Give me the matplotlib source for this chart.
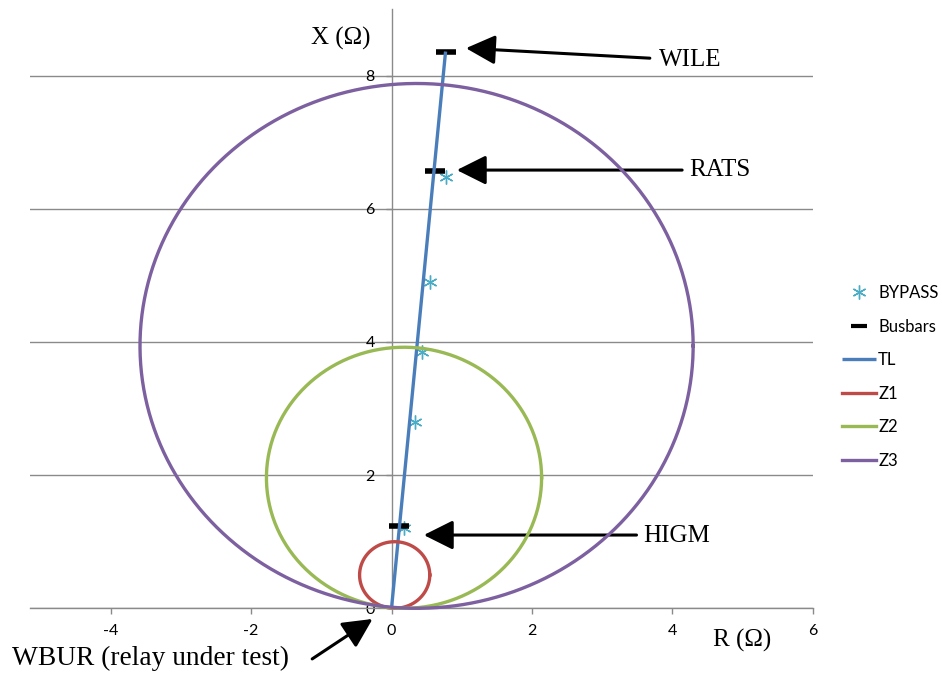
import numpy as np
import matplotlib
matplotlib.use("Agg")
import matplotlib.pyplot as plt

# ---------------- data ----------------
bypass_r = [0.175, 0.33, 0.43, 0.545, 0.77]
bypass_x = [1.21, 2.80, 3.85, 4.90, 6.48]

busbar_r = [0.11, 0.62, 0.77]
busbar_x = [1.24, 6.56, 8.36]

tl_r = [0.0, 0.77]
tl_x = [0.0, 8.36]

# mho circles: centre (R, X) and radius
zone_names = ["Z1", "Z2", "Z3"]
zone_center_r = [0.045, 0.178, 0.357]
zone_center_x = [0.50, 1.96, 3.94]
zone_radius = [0.50, 1.96, 3.94]

xticks = [-4, -2, 0, 2, 4, 6]
yticks = [0, 2, 4, 6, 8]

# annotations: (label, text position, arrow tail, arrow tip) in data units
ann_labels = ["WILE", "RATS", "HIGM", "WBUR (relay under test)"]
ann_text = [(4.25, 8.23), (4.68, 6.58), (4.06, 1.09), (-3.43, -0.75)]
ann_tail = [(3.68, 8.26), (4.14, 6.58), (3.49, 1.10), (-1.13, -0.76)]
ann_tip = [(1.06, 8.41), (0.93, 6.58), (0.46, 1.10), (-0.27, -0.16)]
ann_size = [18, 18, 18, 19.7]

# ---------------- style ----------------
c_tl = "#4A7EBB"
c_zone = ["#BE4B48", "#98B954", "#7D60A0"]
c_bypass = "#4BACC6"
grid_c = "#8a8a8a"
sans = ["Lato", "DejaVu Sans"]
serif = ["Liberation Serif", "DejaVu Serif"]

fig = plt.figure(figsize=(9.42, 6.73), dpi=100)
ax = fig.add_axes([30 / 942, (673 - 608.3) / 673, 782.7 / 942, 599.4 / 673])
ax.set_xlim(-5.15, 6)
ax.set_ylim(0, 9)

for s in ["top", "right"]:
    ax.spines[s].set_visible(False)
ax.spines["left"].set_position(("data", 0))
ax.spines["left"].set_color(grid_c)
ax.spines["bottom"].set_color(grid_c)
ax.spines["left"].set_linewidth(1.0)
ax.spines["bottom"].set_linewidth(1.0)

ax.set_xticks(xticks)
ax.set_yticks(yticks)
ax.set_xticklabels([str(t) for t in xticks], fontfamily=sans, fontsize=11.5)
ax.set_yticklabels([str(t) for t in yticks], fontfamily=sans, fontsize=11.5)
ax.tick_params(axis="x", direction="out", length=4, width=1, color=grid_c, pad=7)
ax.tick_params(axis="y", direction="out", length=4, width=1, color=grid_c, pad=8)
ax.yaxis.grid(True, color=grid_c, linewidth=1.0)
ax.set_axisbelow(True)

# series
ax.plot(bypass_r, bypass_x, linestyle="none", marker=(6, 2, 0), markersize=10,
        markeredgewidth=1.0, color=c_bypass, label="BYPASS", zorder=3, clip_on=False)
ax.plot(busbar_r, busbar_x, linestyle="none", marker="_", markersize=15,
        markeredgewidth=4, color="black", label="Busbars", zorder=3, clip_on=False)
ax.plot(tl_r, tl_x, color=c_tl, linewidth=2.4, label="TL", zorder=4,
        solid_capstyle="butt", clip_on=False)

theta = np.linspace(0, 2 * np.pi, 400)
for name, cr, cx, rad, col in zip(zone_names, zone_center_r, zone_center_x,
                                  zone_radius, c_zone):
    ax.plot(cr + rad * np.cos(theta), cx + rad * np.sin(theta), color=col,
            linewidth=2.4, label=name, zorder=4, clip_on=False)

# axis titles
ax.text(-0.72, 8.55, "X (Ω)", fontfamily=serif, fontsize=18, ha="center",
        va="center")
ax.text(5.0, -0.49, "R (Ω)", fontfamily=serif, fontsize=18, ha="center",
        va="center", clip_on=False)

# annotations
for lab, tp, tail, tip, fs in zip(ann_labels, ann_text, ann_tail, ann_tip, ann_size):
    ax.annotate("", xy=tip, xytext=tail,
                arrowprops=dict(arrowstyle="-|>,head_length=0.9,head_width=0.45",
                                color="black", lw=2.2, mutation_scale=20,
                                shrinkA=0, shrinkB=0),
                annotation_clip=False)
    ax.text(tp[0], tp[1], lab, fontfamily=serif, fontsize=fs, ha="center",
            va="center", clip_on=False)

leg = ax.legend(loc="upper left", bbox_to_anchor=(842 / 942, 1 - 285 / 673),
                bbox_transform=fig.transFigure, frameon=False, borderpad=0,
                borderaxespad=0, handlelength=2.05, handletextpad=0.12,
                labelspacing=1.05, prop={"family": sans, "size": 12})
leg.legend_handles[1].set_markersize(11)
leg.legend_handles[1].set_markeredgewidth(3)

fig.savefig("out.png", dpi=100)
